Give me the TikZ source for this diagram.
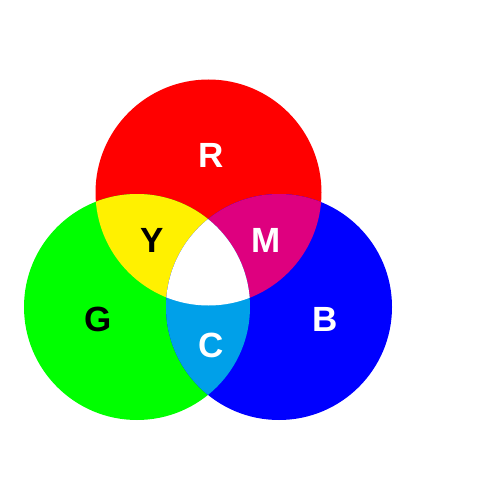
\documentclass[tikz,border=0pt]{standalone}
\usepackage{fontspec}
\setmainfont{Liberation Sans}
\definecolor{cR}{HTML}{FF0000}
\definecolor{cG}{HTML}{00FF00}
\definecolor{cB}{HTML}{0000FF}
\definecolor{cY}{HTML}{FFF100}
\definecolor{cM}{HTML}{DE007F}
\definecolor{cC}{HTML}{00A0E9}
\tikzset{lbl/.style={font=\fontsize{35}{35}\selectfont\bfseries, inner sep=0pt}}
\begin{document}
\begin{tikzpicture}[x=1pt,y=-1pt]
\useasboundingbox (0,0) rectangle (500,500);
\fill[white] (0,0) rectangle (500,500);
\def\Rc{(208.5,192.5) circle[radius=113]}
\def\Gc{(137,307) circle[radius=113]}
\def\Bc{(279,307) circle[radius=113]}
\fill[cR] \Rc;
\fill[cG] \Gc;
\fill[cB] \Bc;
\begin{scope}
\clip \Rc; \fill[cY] \Gc;
\end{scope}
\begin{scope}
\clip \Rc; \fill[cM] \Bc;
\end{scope}
\begin{scope}
\clip \Gc; \fill[cC] \Bc;
\end{scope}
\begin{scope}
\clip \Rc; \clip \Gc; \fill[white] \Bc;
\end{scope}
\node[lbl, text=white] (R) at (211,155) {R};
\node[lbl, text=black] (Y) at (152,240) {Y};
\node[lbl, text=white] (M) at (266,240) {M};
\node[lbl, text=black] (G) at (98,319) {G};
\node[lbl, text=white] (B) at (325,319) {B};
\node[lbl, text=white] (C) at (211,345) {C};
\end{tikzpicture}
\end{document}
